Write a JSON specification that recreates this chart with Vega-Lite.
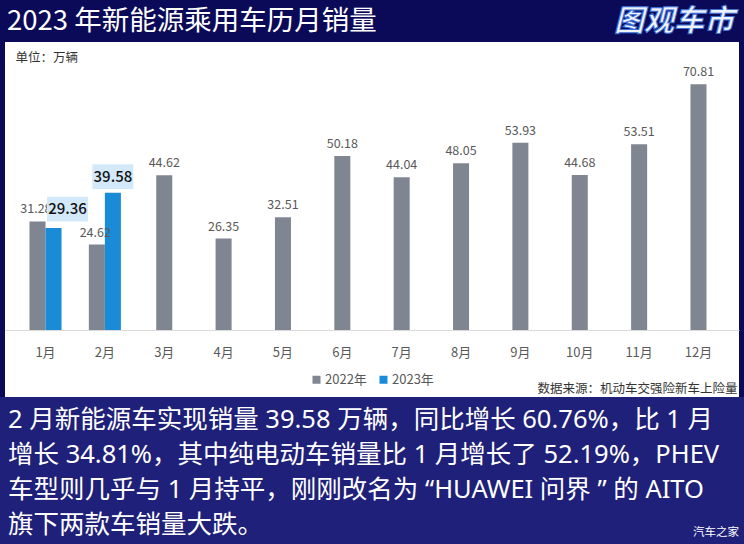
{
  "$schema": "https://vega.github.io/schema/vega-lite/v6.json",
  "background": "#0b0a58",
  "padding": 0,
  "spacing": 0,
  "center": true,
  "config": {
    "font": "Noto Sans CJK SC",
    "view": {"stroke": null},
    "axisX": {
      "labelAngle": 0,
      "labelFontSize": 13,
      "labelColor": "#595959",
      "labelPadding": 16,
      "ticks": false,
      "tickSize": 0,
      "grid": false,
      "domainColor": "#d9d9d9",
      "domainWidth": 1,
      "offset": -67,
      "titleX": 732,
      "titleY": 58,
      "titleAlign": "right",
      "titleBaseline": "middle",
      "titleFontSize": 12.5,
      "titleFontWeight": "normal",
      "titleColor": "#333333",
      "titleAngle": 0
    }
  },
  "datasets": {
    "sales": [
      {"month": "1月", "year": "2022年", "value": 31.28},
      {"month": "1月", "year": "2023年", "value": 29.36},
      {"month": "2月", "year": "2022年", "value": 24.62},
      {"month": "2月", "year": "2023年", "value": 39.58},
      {"month": "3月", "year": "2022年", "value": 44.62},
      {"month": "4月", "year": "2022年", "value": 26.35},
      {"month": "5月", "year": "2022年", "value": 32.51},
      {"month": "6月", "year": "2022年", "value": 50.18},
      {"month": "7月", "year": "2022年", "value": 44.04},
      {"month": "8月", "year": "2022年", "value": 48.05},
      {"month": "9月", "year": "2022年", "value": 53.93},
      {"month": "10月", "year": "2022年", "value": 44.68},
      {"month": "11月", "year": "2022年", "value": 53.51},
      {"month": "12月", "year": "2022年", "value": 70.81}
    ],
    "para": [
      {"line": 1, "text": "2 月新能源车实现销量 39.58 万辆，同比增长 60.76%，比 1 月"},
      {"line": 2, "text": "增长 34.81%，其中纯电动车销量比 1 月增长了 52.19%，PHEV"},
      {"line": 3, "text": "车型则几乎与 1 月持平，刚刚改名为 “HUAWEI 问界 ” 的 AITO"},
      {"line": 4, "text": "旗下两款车销量大跌。"}
    ],
    "mark": [
      {"line": 4, "text": "汽车之家"}
    ],
    "header": [
      {"role": "title", "text": "2023 年新能源乘用车历月销量"},
      {"role": "logo", "text": "图观车市"}
    ]
  },
  "vconcat": [
    {
      "width": 744,
      "height": 42,
      "data": {"name": "header"},
      "layer": [
        {
          "transform": [{"filter": "datum.role === 'title'"}],
          "mark": {"type": "text", "align": "left", "baseline": "middle", "fontSize": 27.5, "color": "white", "dx": 7, "dy": 1},
          "encoding": {
            "x": {"datum": 0, "type": "quantitative", "scale": {"domain": [0, 1]}, "axis": null},
            "text": {"field": "text"}
          }
        },
        {
          "transform": [{"filter": "datum.role === 'logo'"}],
          "mark": {"type": "text", "align": "right", "baseline": "middle", "fontSize": 30, "fontWeight": "bold", "fontStyle": "italic", "fill": "#eef2fb", "stroke": "#3a6fd8", "strokeWidth": 1, "dx": -10, "dy": 1},
          "encoding": {
            "x": {"datum": 1, "type": "quantitative", "scale": {"domain": [0, 1]}, "axis": null},
            "text": {"field": "text"}
          }
        }
      ]
    },
    {
      "width": 734,
      "height": 355,
      "view": {"fill": "white", "stroke": null},
      "data": {"name": "sales"},
      "encoding": {
        "x": {
          "field": "month", "type": "ordinal",
          "sort": ["1月", "2月", "3月", "4月", "5月", "6月", "7月", "8月", "9月", "10月", "11月", "12月"],
          "scale": {"paddingInner": 0.46, "paddingOuter": 0.4125},
          "title": "数据来源：机动车交强险新车上险量"
        },
        "y": {
          "field": "value", "type": "quantitative",
          "scale": {"domain": [-19.31, 83.0], "nice": false, "zero": false},
          "axis": {
            "title": "单位：万辆",
            "titleX": 10, "titleY": 15, "titleAngle": 0,
            "titleAlign": "left", "titleBaseline": "middle",
            "titleFontSize": 12.5, "titleFontWeight": "normal", "titleColor": "#333333",
            "labels": false, "ticks": false, "domain": false, "grid": false
          }
        }
      },
      "layer": [
        {
          "transform": [{"filter": "datum.month === '1月' || datum.month === '2月'"}],
          "mark": {"type": "bar"},
          "encoding": {
            "xOffset": {"field": "year", "type": "nominal", "scale": {"paddingInner": 0, "paddingOuter": 0}},
            "color": {
              "field": "year", "type": "nominal",
              "scale": {"domain": ["2022年", "2023年"], "range": ["#7f8692", "#1a8bd6"]},
              "legend": {
                "orient": "none", "legendX": 310, "legendY": 373, "direction": "horizontal",
                "title": null, "symbolType": "square", "symbolSize": 64, "symbolStrokeWidth": 0,
                "labelFontSize": 13, "labelColor": "#595959", "labelOffset": 2, "columnPadding": 10
              }
            }
          }
        },
        {
          "transform": [{"filter": "datum.month !== '1月' && datum.month !== '2月'"}],
          "mark": {"type": "bar", "width": {"band": 0.5}},
          "encoding": {
            "color": {"field": "year", "type": "nominal"}
          }
        },
        {
          "transform": [{"filter": "datum.year === '2022年' && (datum.month === '1月' || datum.month === '2月')"}],
          "mark": {"type": "text", "baseline": "bottom", "dy": -5, "fontSize": 12.5, "color": "#595959"},
          "encoding": {
            "x": {
              "field": "month", "type": "ordinal", "bandPosition": 0.2,
              "sort": ["1月", "2月", "3月", "4月", "5月", "6月", "7月", "8月", "9月", "10月", "11月", "12月"],
              "scale": {"paddingInner": 0.46, "paddingOuter": 0.4125},
              "title": "数据来源：机动车交强险新车上险量"
            },
            "text": {"field": "value", "type": "quantitative", "format": ".2f"}
          }
        },
        {
          "transform": [{"filter": "datum.month !== '1月' && datum.month !== '2月'"}],
          "mark": {"type": "text", "baseline": "bottom", "dy": -5, "fontSize": 12.5, "color": "#595959"},
          "encoding": {
            "text": {"field": "value", "type": "quantitative", "format": ".2f"}
          }
        },
        {
          "transform": [{"filter": "datum.year === '2023年' && datum.month === '1月'"}],
          "encoding": {
            "x": {
              "field": "month", "type": "ordinal", "bandPosition": 0.75,
              "sort": ["1月", "2月", "3月", "4月", "5月", "6月", "7月", "8月", "9月", "10月", "11月", "12月"],
              "scale": {"paddingInner": 0.46, "paddingOuter": 0.4125},
              "title": "数据来源：机动车交强险新车上险量"
            }
          },
          "layer": [
            {
              "mark": {"type": "point", "shape": "M-1,-0.6H1V0.6H-1Z", "size": 1681, "filled": true, "opacity": 1, "color": "#d3e9f9", "strokeWidth": 0, "xOffset": 14, "yOffset": -19}
            },
            {
              "mark": {"type": "text", "baseline": "middle", "dx": 14, "dy": -19, "fontSize": 15, "fontWeight": 500, "color": "#111111"},
              "encoding": {"text": {"field": "value", "type": "quantitative", "format": ".2f"}}
            }
          ]
        },
        {
          "transform": [{"filter": "datum.year === '2023年' && datum.month === '2月'"}],
          "encoding": {
            "x": {
              "field": "month", "type": "ordinal", "bandPosition": 0.75,
              "sort": ["1月", "2月", "3月", "4月", "5月", "6月", "7月", "8月", "9月", "10月", "11月", "12月"],
              "scale": {"paddingInner": 0.46, "paddingOuter": 0.4125},
              "title": "数据来源：机动车交强险新车上险量"
            }
          },
          "layer": [
            {
              "mark": {"type": "point", "shape": "M-1,-0.6H1V0.6H-1Z", "size": 1681, "filled": true, "opacity": 1, "color": "#d3e9f9", "strokeWidth": 0, "yOffset": -16}
            },
            {
              "mark": {"type": "text", "baseline": "middle", "dy": -16, "fontSize": 15, "fontWeight": 500, "color": "#111111"},
              "encoding": {"text": {"field": "value", "type": "quantitative", "format": ".2f"}}
            }
          ]
        }
      ]
    },
    {
      "width": 744,
      "height": 147,
      "view": {"fill": "#1f2079", "stroke": null},
      "layer": [
        {
          "data": {"name": "para"},
          "mark": {"type": "text", "align": "left", "baseline": "middle", "fontSize": 25.5, "font": "Noto Sans, Noto Sans CJK SC", "color": "white", "dx": 8, "dy": 2},
          "encoding": {
            "x": {"datum": 0, "type": "quantitative", "scale": {"domain": [0, 1]}, "axis": null},
            "y": {"field": "line", "type": "ordinal", "scale": {"type": "point", "padding": 0.62}, "axis": null},
            "text": {"field": "text"}
          }
        },
        {
          "data": {"name": "mark"},
          "mark": {"type": "text", "align": "right", "baseline": "middle", "fontSize": 11.5, "color": "white", "dx": -5, "dy": 10},
          "encoding": {
            "x": {"datum": 1, "type": "quantitative", "scale": {"domain": [0, 1]}, "axis": null},
            "y": {"field": "line", "type": "ordinal", "scale": {"type": "point", "padding": 0.62}, "axis": null},
            "text": {"field": "text"}
          }
        }
      ]
    }
  ]
}
